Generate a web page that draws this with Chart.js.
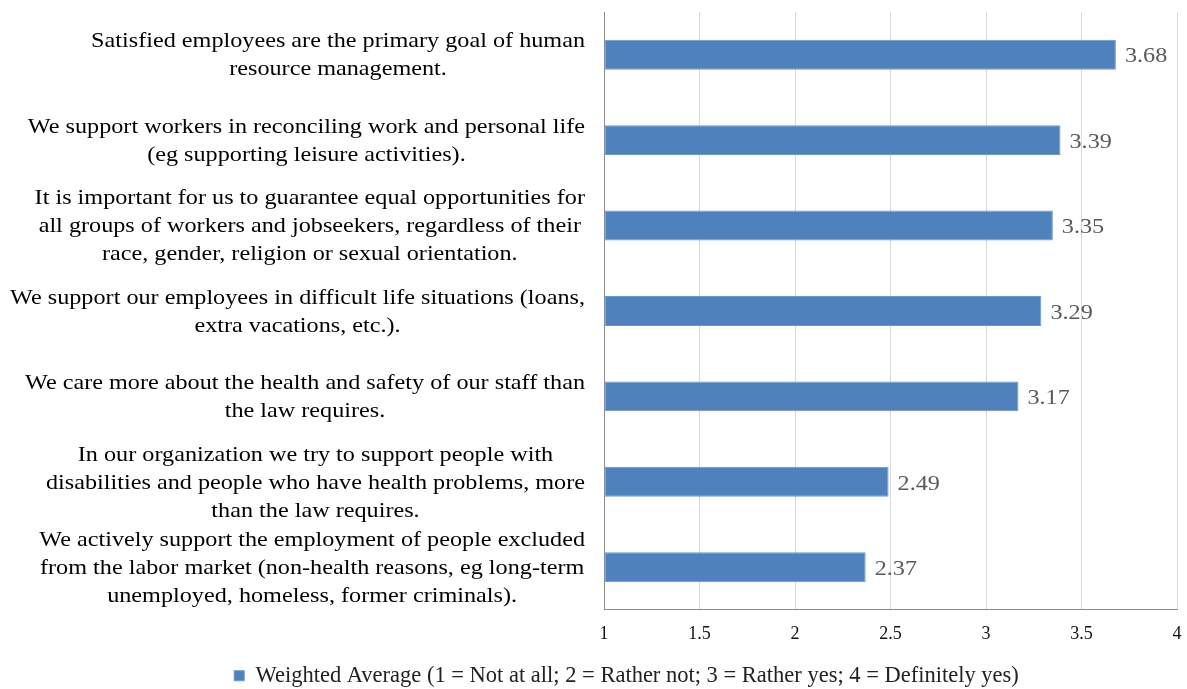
<!DOCTYPE html>
<html>
<head>
<meta charset="utf-8">
<script src="https://cdn.jsdelivr.net/npm/chart.js@4/dist/chart.umd.min.js"></script>
<style>
  html, body { margin: 0; padding: 0; background: #fff; }
  #wrap { width: 1187px; height: 689px; }
</style>
</head>
<body>
<div id="wrap"><canvas id="chart"></canvas></div>
<script>
const categories = [
  ["Satisfied employees are the primary goal of human", "resource management."],
  ["We support workers in reconciling work and personal life", "(eg supporting leisure activities)."],
  ["It is important for us to guarantee equal opportunities for", "all groups of workers and jobseekers, regardless of their", "race, gender, religion or sexual orientation."],
  ["We support our employees in difficult life situations (loans,", "extra vacations, etc.)."],
  ["We care more about the health and safety of our staff than", "the law requires."],
  ["In our organization we try to support people with", "disabilities and people who have health problems, more", "than the law requires."],
  ["We actively support the employment of people excluded", "from the labor market (non-health reasons, eg long-term", "unemployed, homeless, former criminals)."]
];
const averages = [3.68, 3.39, 3.35, 3.29, 3.17, 2.49, 2.37];
const seriesName = "Weighted Average (1 = Not at all; 2 = Rather not; 3 = Rather yes; 4 = Definitely yes)";
const xTicks = [1, 1.5, 2, 2.5, 3, 3.5, 4];

const serif = '"Liberation Serif", "Times New Roman", serif';
const stretch = 1.1; // the source text is a bit wider than Liberation Serif

// category labels: block right-aligned, lines centred inside the block
const catLabels = {
  id: "catLabels",
  afterDraw(chart) {
    const ctx = chart.ctx;
    const y = chart.scales.y;
    ctx.save();
    ctx.font = "22px " + serif;
    ctx.fillStyle = "#000";
    ctx.textAlign = "center";
    ctx.textBaseline = "middle";
    const lh = 28;
    categories.forEach((lines, i) => {
      const w = Math.max(...lines.map((l) => ctx.measureText(l).width)) * stretch;
      const cx = 585 - w / 2;
      const cy = y.getPixelForValue(i) + 1;
      lines.forEach((l, k) => {
        ctx.save();
        ctx.translate(cx, cy - ((lines.length - 1) * lh) / 2 + k * lh);
        ctx.scale(stretch, 1);
        ctx.fillText(l, 0, 0);
        ctx.restore();
      });
    });
    ctx.restore();
  },
};

const valueLabels = {
  id: "valueLabels",
  afterDatasetsDraw(chart) {
    const ctx = chart.ctx;
    const meta = chart.getDatasetMeta(0);
    ctx.save();
    ctx.font = "22px " + serif;
    ctx.fillStyle = "#595959";
    ctx.textAlign = "left";
    ctx.textBaseline = "middle";
    meta.data.forEach((bar, i) => {
      ctx.save();
      ctx.translate(bar.x + 9, bar.y + 2);
      ctx.scale(stretch, 1);
      ctx.fillText(averages[i].toFixed(2), 0, 0);
      ctx.restore();
    });
    ctx.restore();
  },
};

// the legend sits a little right of centre in the source
const shiftLegend = {
  id: "shiftLegend",
  afterLayout(chart) {
    chart.legend.left += 38;
    chart.legend.right += 38;
  },
};

new Chart(document.getElementById("chart"), {
  type: "bar",
  data: {
    labels: categories.map((c) => c.join(" ")),
    datasets: [
      {
        label: seriesName,
        data: averages,
        base: 1,
        backgroundColor: "#4f81bd",
        borderColor: "#6b97cc",
        borderWidth: 1,
        borderSkipped: false,
        categoryPercentage: 1,
        barPercentage: 0.35,
      },
    ],
  },
  options: {
    indexAxis: "y",
    responsive: true,
    maintainAspectRatio: false,
    animation: false,
    layout: { padding: { top: 12, right: 10, left: 0, bottom: -8 } },
    plugins: {
      legend: {
        position: "bottom",
        labels: {
          boxWidth: 10,
          boxHeight: 10,
          color: "#222",
          font: { family: serif, size: 22.5 },
          padding: 5,
        },
      },
      tooltip: { enabled: false },
    },
    scales: {
      x: {
        min: 1,
        max: 4,
        afterBuildTicks: (s) => { s.ticks = xTicks.map((v) => ({ value: v })); },
        afterFit: (s) => { s.paddingRight = 0; },
        grid: { color: "#d9d9d9", drawTicks: false },
        border: { color: "#8c8c8c" },
        ticks: {
          color: "#111",
          font: { family: serif, size: 18 },
          padding: 14,
          callback: (v) => String(v),
        },
      },
      y: {
        grid: { display: false },
        border: { color: "#8c8c8c" },
        ticks: { display: false },
        afterFit: (s) => { s.width = 604; },
      },
    },
  },
  plugins: [catLabels, valueLabels, shiftLegend],
});
</script>
</body>
</html>
